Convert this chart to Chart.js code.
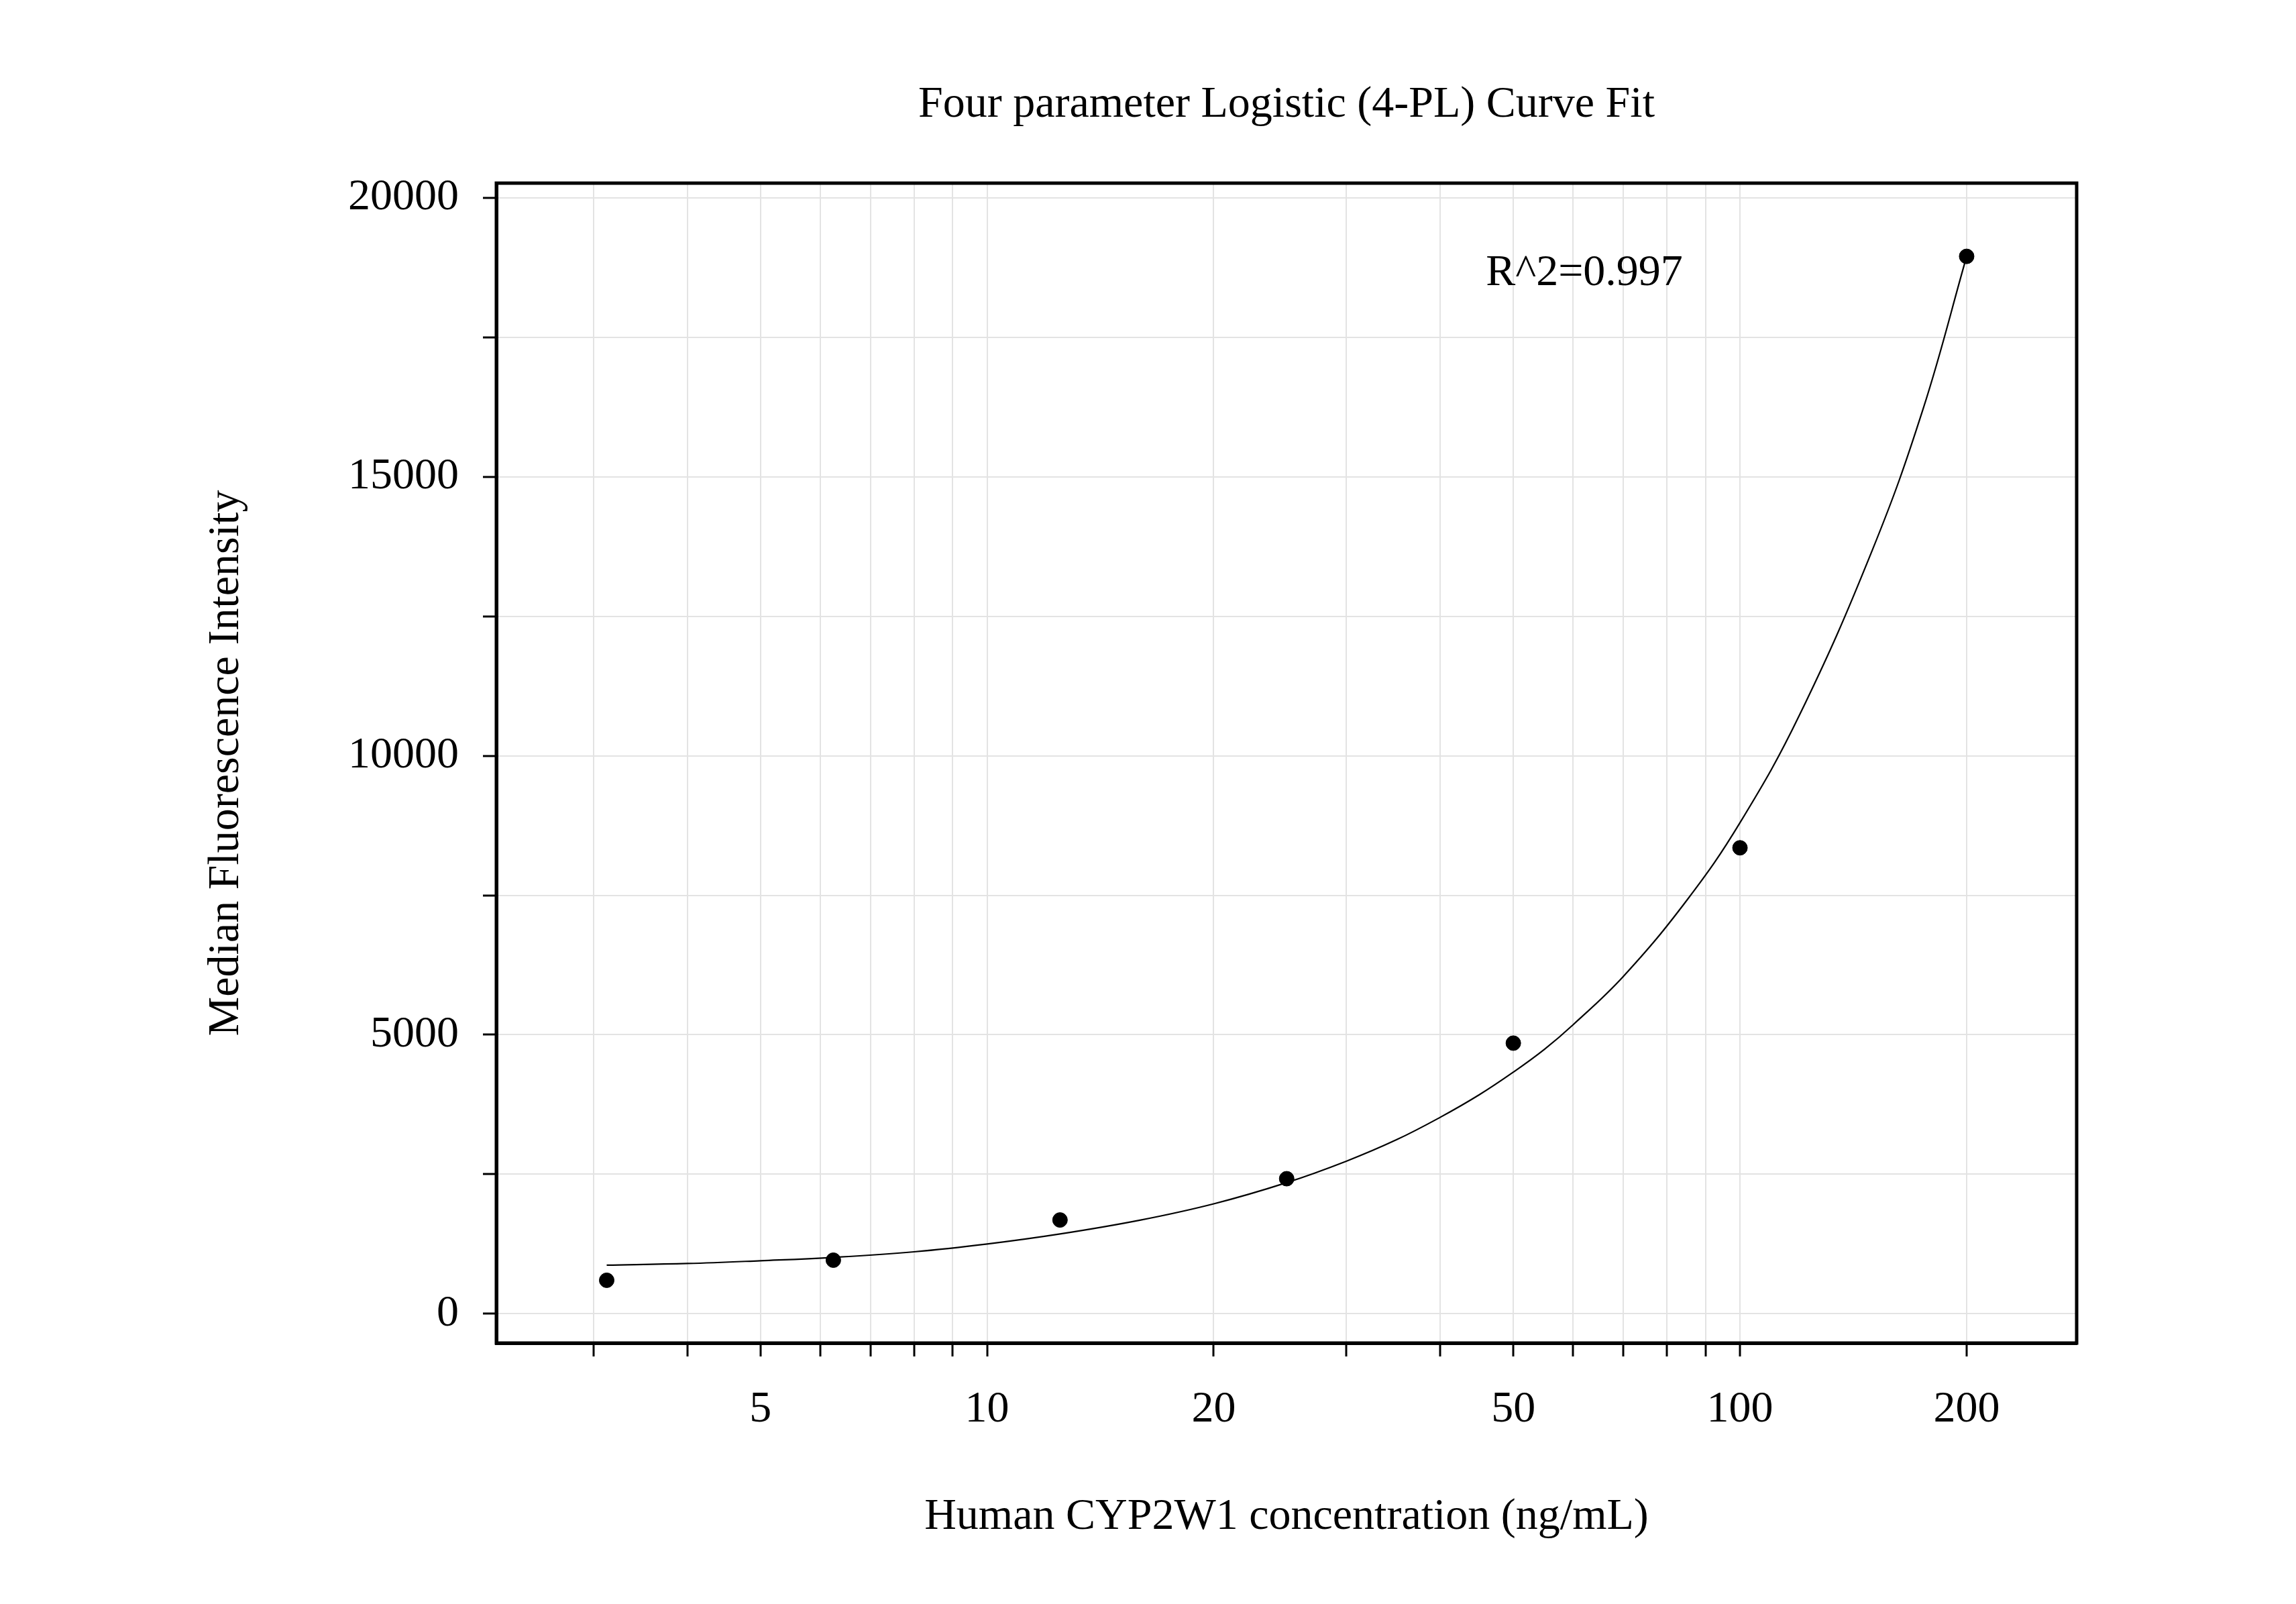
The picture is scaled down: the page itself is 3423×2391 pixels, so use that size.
<!DOCTYPE html>
<html><head><meta charset="utf-8">
<script src="https://cdn.jsdelivr.net/npm/chart.js@4"></script>
<style>html,body{margin:0;padding:0;background:#fff}</style>
</head><body>
<canvas id="c" width="3423" height="2391" style="width:3423px;height:2391px"></canvas>
<script>
const concentrations = [3.125, 6.25, 12.5, 25, 50, 100, 200];
const mfi = [600, 960, 1680, 2420, 4850, 8350, 18950];
const curveX = [3.125, 4, 5, 6.25, 8, 10, 12.5, 16, 20, 25, 30, 35, 40, 45, 50, 55, 60, 70, 85, 100, 120, 150, 175, 200];
const curveY = [870, 900, 950, 1010, 1110, 1250, 1430, 1680, 1970, 2350, 2734, 3120, 3522, 3920, 4330, 4740, 5177, 6045, 7410, 8800, 10733, 13696, 16208, 18950];
const xTicks = [3,4,5,6,7,8,9,10,20,30,40,50,60,70,80,90,100,200];
const xLabels = [5,10,20,50,100,200];
const titleText = 'Four parameter Logistic (4-PL) Curve Fit';
const xTitle = 'Human CYP2W1 concentration (ng/mL)';
const yTitle = 'Median Fluorescence Intensity';
const r2Text = 'R^2=0.997';
const FONT = '"Liberation Serif", "Times New Roman", serif';

const textPlugin = {
  id: 'texts',
  afterDraw(chart) {
    const ctx = chart.ctx, a = chart.chartArea;
    ctx.save();
    ctx.strokeStyle = '#000'; ctx.lineWidth = 5;
    ctx.strokeRect(a.left, a.top, a.right - a.left, a.bottom - a.top);
    ctx.fillStyle = '#000';
    ctx.font = '66px ' + FONT;
    ctx.textAlign = 'center'; ctx.textBaseline = 'middle';
    ctx.fillText(titleText, (a.left + a.right) / 2, 157);
    ctx.fillText(xTitle, (a.left + a.right) / 2, 2262);
    ctx.fillText(r2Text, 2362, 408);
    ctx.translate(338, (a.top + a.bottom) / 2);
    ctx.rotate(-Math.PI / 2);
    ctx.fillText(yTitle, 0, 0);
    ctx.restore();
  }
};

new Chart(document.getElementById('c'), {
  type: 'scatter',
  data: {
    datasets: [
      { data: curveX.map((x, i) => ({x, y: curveY[i]})), showLine: true, borderColor: '#000', borderWidth: 2.2, pointRadius: 0, tension: 0.4, fill: false },
      { data: concentrations.map((x, i) => ({x, y: mfi[i]})), pointRadius: 11, backgroundColor: '#000', borderColor: '#000', showLine: false }
    ]
  },
  options: {
    responsive: false, animation: false, devicePixelRatio: 1,
    layout: { padding: { left: 0, top: 273, right: 327, bottom: 0 } },
    plugins: { legend: { display: false }, tooltip: { enabled: false }, title: { display: false } },
    scales: {
      x: {
        type: 'logarithmic', min: 2.23, max: 280,
        afterBuildTicks(s) { s.ticks = xTicks.map(v => ({ value: v })); },
        afterFit(s) { s.height = 389; },
        ticks: { autoSkip: false, maxRotation: 0, color: '#000', font: { size: 66, family: FONT }, padding: 40,
          callback: v => xLabels.includes(v) ? String(v) : '' },
        grid: { color: '#e3e3e3', lineWidth: 2, tickColor: '#000', tickLength: 20, tickWidth: 3 },
        border: { display: true, color: '#000', width: 5 }
      },
      y: {
        min: -525, max: 20262,
        afterBuildTicks(s) { const t = []; for (let v = 0; v <= 20000; v += 2500) t.push({ value: v }); s.ticks = t; },
        afterFit(s) { s.width = 740; },
        ticks: { color: '#000', font: { size: 66, family: FONT }, padding: 36,
          callback: v => v % 5000 === 0 ? String(v) : '' },
        grid: { color: '#e3e3e3', lineWidth: 2, tickColor: '#000', tickLength: 20, tickWidth: 3 },
        border: { display: true, color: '#000', width: 5 }
      }
    }
  },
  plugins: [textPlugin]
});
</script>
</body></html>
